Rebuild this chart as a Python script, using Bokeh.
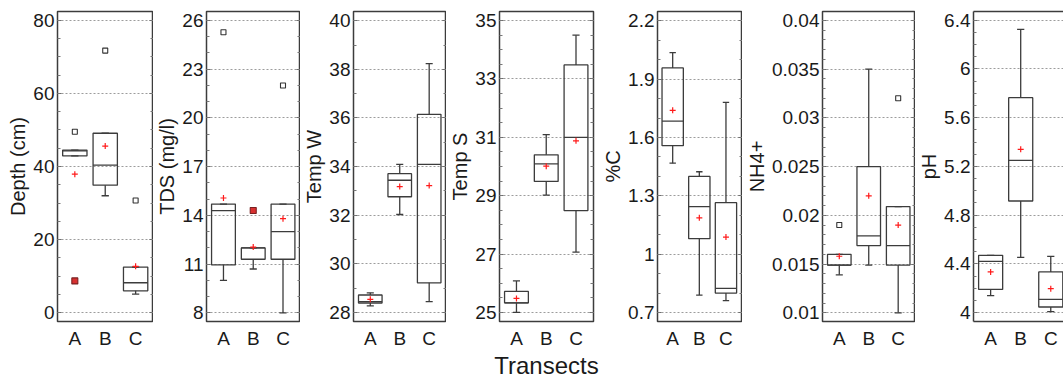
from bokeh.plotting import figure
from bokeh.layouts import row
from bokeh.models import FixedTicker, LinearAxis, Range1d
from bokeh.embed import file_html
from bokeh.resources import INLINE

categories = ["A", "B", "C"]

# ---- Depth (cm)
depth_q1 = [42.9, 34.9, 6.0]
depth_med = [44.3, 40.4, 8.2]
depth_q3 = [44.5, 49.1, 12.5]
depth_low = [42.9, 32.0, 5.1]
depth_high = [44.5, 49.1, 12.5]
depth_mean = [37.9, 45.6, 12.7]
depth_out_cat = ["A", "B", "C"]
depth_out_val = [49.5, 71.7, 30.7]
depth_far_cat = ["A"]
depth_far_val = [8.7]
depth_ticks = [0, 20, 40, 60, 80]
depth_labels = ["0", "20", "40", "60", "80"]

# ---- TDS (mg/l)
tds_q1 = [10.95, 11.3, 11.3]
tds_med = [14.3, 12.0, 13.0]
tds_q3 = [14.7, 12.0, 14.7]
tds_low = [10.0, 10.7, 8.0]
tds_high = [14.7, 12.0, 14.7]
tds_mean = [15.07, 12.05, 13.8]
tds_out_cat = ["A", "C"]
tds_out_val = [25.27, 22.0]
tds_far_cat = ["B"]
tds_far_val = [14.3]
tds_ticks = [8, 11, 14, 17, 20, 23, 26]
tds_labels = ["8", "11", "14", "17", "20", "23", "26"]

# ---- Temp W
tw_q1 = [28.39, 32.76, 29.22]
tw_med = [28.45, 33.44, 34.09]
tw_q3 = [28.72, 33.71, 36.15]
tw_low = [28.27, 32.03, 28.45]
tw_high = [28.81, 34.09, 38.24]
tw_mean = [28.54, 33.18, 33.22]
tw_ticks = [28, 30, 32, 34, 36, 38, 40]
tw_labels = ["28", "30", "32", "34", "36", "38", "40"]

# ---- Temp S
ts_q1 = [25.33, 29.49, 28.49]
ts_med = [25.33, 30.09, 31.0]
ts_q3 = [25.72, 30.4, 33.48]
ts_low = [25.0, 29.02, 27.07]
ts_high = [26.08, 31.09, 34.5]
ts_mean = [25.48, 30.01, 30.88]
ts_ticks = [25, 27, 29, 31, 33, 35]
ts_labels = ["25", "27", "29", "31", "33", "35"]

# ---- %C
c_q1 = [1.558, 1.08, 0.80]
c_med = [1.684, 1.245, 0.824]
c_q3 = [1.958, 1.40, 1.265]
c_low = [1.468, 0.79, 0.761]
c_high = [2.037, 1.424, 1.781]
c_mean = [1.74, 1.187, 1.088]
c_ticks = [0.7, 1.0, 1.3, 1.6, 1.9, 2.2]
c_labels = ["0.7", "1", "1.3", "1.6", "1.9", "2.2"]

# ---- NH4+
n_q1 = [0.0149, 0.0169, 0.0149]
n_med = [0.0149, 0.0179, 0.0169]
n_q3 = [0.0160, 0.0250, 0.0209]
n_low = [0.0139, 0.0149, 0.0100]
n_high = [0.0160, 0.0350, 0.0209]
n_mean = [0.0158, 0.0220, 0.0190]
n_out_cat = ["A", "C"]
n_out_val = [0.0190, 0.0320]
n_ticks = [0.01, 0.015, 0.02, 0.025, 0.03, 0.035, 0.04]
n_labels = ["0.01", "0.015", "0.02", "0.025", "0.03", "0.035", "0.04"]

# ---- pH
ph_q1 = [4.19, 4.916, 4.046]
ph_med = [4.42, 5.25, 4.108]
ph_q3 = [4.47, 5.764, 4.334]
ph_low = [4.14, 4.454, 4.008]
ph_high = [4.47, 6.324, 4.462]
ph_mean = [4.334, 5.34, 4.196]
ph_ticks = [4.0, 4.4, 4.8, 5.2, 5.6, 6.0, 6.4]
ph_labels = ["4", "4.4", "4.8", "5.2", "5.6", "6", "6.4"]

FONT = "Liberation Sans"
LINE = "#3c3c3c"
H = 381
TOP = 11
BOTTOM = 58

panels = [
    dict(label="Depth (cm)", q1=depth_q1, med=depth_med, q3=depth_q3, low=depth_low, high=depth_high,
         mean=depth_mean, out=(depth_out_cat, depth_out_val), far=(depth_far_cat, depth_far_val),
         ticks=depth_ticks, labels=depth_labels, yr=(-2.4, 82.4), nminor=4,
         left=57, fw=96, right=0),
    dict(label="TDS (mg/l)", q1=tds_q1, med=tds_med, q3=tds_q3, low=tds_low, high=tds_high,
         mean=tds_mean, out=(tds_out_cat, tds_out_val), far=(tds_far_cat, tds_far_val),
         ticks=tds_ticks, labels=tds_labels, yr=(7.47, 26.55), nminor=3,
         left=51, fw=96, right=0),
    dict(label="Temp W", q1=tw_q1, med=tw_med, q3=tw_q3, low=tw_low, high=tw_high,
         mean=tw_mean, out=None, far=None,
         ticks=tw_ticks, labels=tw_labels, yr=(27.63, 40.38), nminor=2,
         left=50, fw=96, right=0),
    dict(label="Temp S", q1=ts_q1, med=ts_med, q3=ts_q3, low=ts_low, high=ts_high,
         mean=ts_mean, out=None, far=None,
         ticks=ts_ticks, labels=ts_labels, yr=(24.69, 35.31), nminor=4,
         left=51, fw=96, right=6, xlabel="Transects"),
    dict(label="%C", q1=c_q1, med=c_med, q3=c_q3, low=c_low, high=c_high,
         mean=c_mean, out=None, far=None,
         ticks=c_ticks, labels=c_labels, yr=(0.654, 2.248), nminor=3,
         left=46, fw=97, right=0),
    dict(label="NH4+", q1=n_q1, med=n_med, q3=n_q3, low=n_low, high=n_high,
         mean=n_mean, out=(n_out_cat, n_out_val), far=None,
         ticks=n_ticks, labels=n_labels, yr=(0.00911, 0.0409), nminor=5,
         left=77, fw=96, right=0),
    dict(label="pH", q1=ph_q1, med=ph_med, q3=ph_q3, low=ph_low, high=ph_high,
         mean=ph_mean, out=None, far=None,
         ticks=ph_ticks, labels=ph_labels, yr=(3.927, 6.471), nminor=4,
         left=57, fw=91, right=0, cut=True),
]

xpos = {c: i + 1 for i, c in enumerate(categories)}
xs = [xpos[c] for c in categories]
PX_PER_UNIT = 30.4
BOX_HALF = 0.4
CAP_HALF = 0.12


def minor_ticks(ticks, n, lo, hi):
    step = (ticks[1] - ticks[0]) / n
    out = []
    k = -n
    while True:
        v = ticks[0] + k * step
        if v > hi:
            break
        if v >= lo:
            out.append(round(v, 10))
        k += 1
    return out


figs = []
for sp in panels:
    x0 = 0.43
    x1 = x0 + sp["fw"] / PX_PER_UNIT
    cut = sp.get("cut", False)
    width = sp["left"] + sp["fw"] + sp["right"]
    p = figure(width=width, height=H, x_range=Range1d(x0, x1), y_range=Range1d(*sp["yr"]),
               output_backend="svg", toolbar_location=None,
               min_border_left=sp["left"], min_border_right=sp["right"],
               min_border_top=TOP, min_border_bottom=BOTTOM)
    p.background_fill_color = "white"
    p.border_fill_color = "white"
    if cut:
        p.outline_line_color = None
    else:
        p.outline_line_color = LINE
        p.outline_line_width = 1.5

    yt = FixedTicker(ticks=sp["ticks"], minor_ticks=minor_ticks(sp["ticks"], sp["nminor"], *sp["yr"]))
    yax = p.yaxis[0]
    yax.ticker = yt
    yax.major_label_overrides = {t: l for t, l in zip(sp["ticks"], sp["labels"])}
    yax.major_label_text_font = FONT
    yax.major_label_text_font_size = "19px"
    yax.major_label_text_color = "#1a1a1a"
    yax.major_label_standoff = 3
    yax.major_tick_in = 4
    yax.major_tick_out = 0
    yax.minor_tick_in = 3
    yax.minor_tick_out = 0
    yax.major_tick_line_color = "#666666"
    yax.minor_tick_line_color = "#777777"
    yax.axis_line_color = LINE if cut else None
    yax.axis_line_width = 1.5
    yax.axis_label = sp["label"]
    yax.axis_label_text_font = FONT
    yax.axis_label_text_font_size = "20px"
    yax.axis_label_text_font_style = "normal"
    yax.axis_label_text_color = "#1a1a1a"
    yax.axis_label_standoff = 1

    xax = p.xaxis[0]
    xax.ticker = FixedTicker(ticks=xs, minor_ticks=[])
    xax.major_label_overrides = {xpos[c]: c for c in categories}
    xax.major_label_text_font = FONT
    xax.major_label_text_font_size = "19px"
    xax.major_label_text_color = "#1a1a1a"
    xax.major_label_standoff = 6
    xax.major_tick_in = 0
    xax.major_tick_out = 0
    xax.axis_line_color = LINE if cut else None
    xax.axis_line_width = 1.5
    if sp.get("xlabel"):
        xax.axis_label = sp["xlabel"]
        xax.axis_label_text_font = FONT
        xax.axis_label_text_font_size = "24px"
        xax.axis_label_text_font_style = "normal"
        xax.axis_label_text_color = "#1a1a1a"
        xax.axis_label_standoff = 0

    p.xgrid.visible = False
    p.ygrid[0].ticker = yt
    p.ygrid[0].grid_line_color = "#9c9c9c"
    p.ygrid[0].grid_line_dash = "2 2"
    p.ygrid[0].grid_line_width = 1

    if not cut:
        ra = LinearAxis(ticker=yt, major_label_overrides={t: "" for t in sp["ticks"]},
                        major_label_standoff=0, major_tick_in=4, major_tick_out=0,
                        minor_tick_in=3, minor_tick_out=0, axis_line_color=None,
                        major_tick_line_color="#666666", minor_tick_line_color="#777777",
                        major_label_text_font_size="1px")
        p.add_layout(ra, "right")
    else:
        ta = LinearAxis(ticker=FixedTicker(ticks=[]), major_label_standoff=0, major_tick_in=0,
                        major_tick_out=0, minor_tick_in=0, minor_tick_out=0,
                        axis_line_color=LINE, axis_line_width=1.5, major_label_text_font_size="1px")
        p.add_layout(ta, "above")

    # boxes
    p.vbar(x=xs, width=2 * BOX_HALF, bottom=sp["q1"], top=sp["q3"], fill_color=None,
           line_color=LINE, line_width=1.3)
    p.segment(x0=[x - BOX_HALF for x in xs], y0=sp["med"], x1=[x + BOX_HALF for x in xs], y1=sp["med"],
              line_color=LINE, line_width=1.3)
    # whiskers
    p.segment(x0=xs, y0=sp["q3"], x1=xs, y1=sp["high"], line_color=LINE, line_width=1.3)
    p.segment(x0=xs, y0=sp["low"], x1=xs, y1=sp["q1"], line_color=LINE, line_width=1.3)
    p.segment(x0=[x - CAP_HALF for x in xs], y0=sp["high"], x1=[x + CAP_HALF for x in xs], y1=sp["high"],
              line_color=LINE, line_width=1.3)
    p.segment(x0=[x - CAP_HALF for x in xs], y0=sp["low"], x1=[x + CAP_HALF for x in xs], y1=sp["low"],
              line_color=LINE, line_width=1.3)
    # means
    p.scatter(x=xs, y=sp["mean"], marker="cross", size=6, line_color="#ff1a1a", line_width=1.2)
    # outliers
    if sp["out"]:
        cats, vals = sp["out"]
        p.scatter(x=[xpos[c] for c in cats], y=vals, marker="square", size=5, fill_color=None,
                  line_color="#333333", line_width=1.1)
    if sp["far"]:
        cats, vals = sp["far"]
        p.scatter(x=[xpos[c] for c in cats], y=vals, marker="square", size=6, fill_color="#d83030",
                  line_color="#7a2020", line_width=1.1)
    figs.append(p)

layout = row(*figs, spacing=0)
open("out.html", "w").write(file_html(layout, INLINE))
